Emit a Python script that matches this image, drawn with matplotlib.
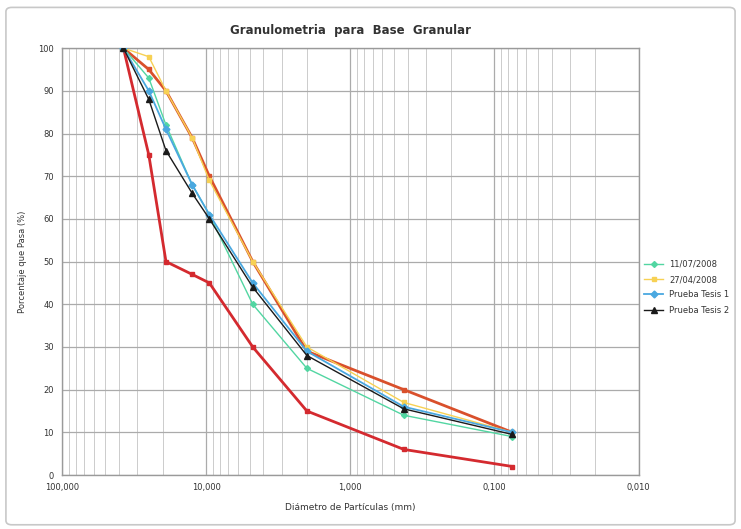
import matplotlib
matplotlib.use("Agg")
import matplotlib.pyplot as plt
from matplotlib.patches import FancyBboxPatch
from matplotlib.ticker import FixedLocator, FixedFormatter, LogLocator, NullFormatter

# Sieve sizes (mm)
sizes = [37.5, 25, 19, 12.5, 9.5, 4.75, 2.0, 0.425, 0.075]

# Specification limits
lower_limit = [100, 75, 50, 47, 45, 30, 15, 6, 2]
upper_limit = [100, 95, 90, 79, 70, 50, 29, 20, 10]

# Tested samples
s_110708 = [100, 93, 82, 68, 61, 40, 25, 14, 9]
s_270408 = [100, 98, 90, 79, 69, 50, 30, 17, 10]
s_tesis1 = [100, 90, 81, 68, 61, 45, 29, 16, 10]
s_tesis2 = [100, 88, 76, 66, 60, 44, 28, 15.5, 9.5]

series_labels = ["11/07/2008", "27/04/2008", "Prueba Tesis 1", "Prueba Tesis 2"]

x_ticks = [100, 10, 1, 0.1, 0.01]
x_ticklabels = ["100,000", "10,000", "1,000", "0,100", "0,010"]
y_ticks = list(range(0, 101, 10))

fig = plt.figure(figsize=(7.41, 5.29), dpi=100)
fig.patch.set_facecolor("white")
fig.patches.append(FancyBboxPatch((0.008, 0.008), 0.984, 0.978,
                                  boxstyle="round,pad=0,rounding_size=0.008",
                                  transform=fig.transFigure, fill=False,
                                  edgecolor="#c8c8c8", linewidth=1.2))

ax = fig.add_axes([0.0837, 0.102, 0.778, 0.807])
ax.set_xscale("log")
ax.set_xlim(100, 0.01)
ax.set_ylim(0, 100)

ax.xaxis.set_major_locator(FixedLocator(x_ticks))
ax.xaxis.set_major_formatter(FixedFormatter(x_ticklabels))
ax.xaxis.set_minor_locator(LogLocator(base=10, subs=range(2, 10), numticks=20))
ax.xaxis.set_minor_formatter(NullFormatter())
ax.set_yticks(y_ticks)

ax.grid(True, which="major", axis="both", color="#ababab", linewidth=0.9)
ax.grid(True, which="minor", axis="x", color="#cccccc", linewidth=0.7)
ax.set_axisbelow(True)
for sp in ax.spines.values():
    sp.set_color("#9a9a9a")
    sp.set_linewidth(1.0)
ax.tick_params(axis="both", which="both", length=0, labelsize=6, colors="#333333", pad=6)

ax.plot(sizes, lower_limit, color="#d42a2f", lw=2.0, marker="s", ms=3, zorder=3)
ax.plot(sizes, upper_limit, color="#d9502c", lw=2.0, marker="s", ms=3, zorder=3)

ax.plot(sizes, s_110708, color="#52d6a2", lw=1.0, marker="D", ms=3, label=series_labels[0], zorder=4)
ax.plot(sizes, s_270408, color="#f7d154", lw=1.0, marker="s", ms=3, label=series_labels[1], zorder=4)
ax.plot(sizes, s_tesis1, color="#4aa8e0", lw=1.3, marker="D", ms=3.5, label=series_labels[2], zorder=4)
ax.plot(sizes, s_tesis2, color="#1a1a1a", lw=1.0, marker="^", ms=4, label=series_labels[3], zorder=5)

ax.set_title("Granulometria  para  Base  Granular", fontsize=8.5, fontweight="bold",
             color="#333333", pad=10)
ax.set_xlabel("Diámetro de Partículas (mm)", fontsize=6.5, color="#333333", labelpad=8)
ax.set_ylabel("Porcentaje que Pasa (%)", fontsize=6, color="#333333", labelpad=8)

leg = ax.legend(loc="center left", bbox_to_anchor=(1.0, 0.44), frameon=False,
                fontsize=6, handlelength=2.2, labelspacing=0.75, borderaxespad=0.3)
for t in leg.get_texts():
    t.set_color("#333333")

fig.savefig("out.png", dpi=100, facecolor="white")
